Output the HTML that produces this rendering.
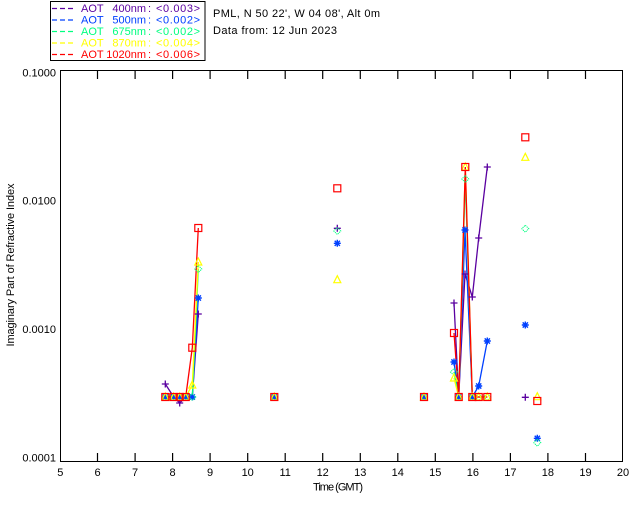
<!DOCTYPE html>
<html><head><meta charset="utf-8"><style>
html,body{margin:0;padding:0;background:#fff;}
svg{display:block;}
text{font-family:"Liberation Sans",sans-serif;font-size:11px;fill:#000;}
</style></head><body>
<svg width="640" height="512" viewBox="0 0 640 512" xmlns="http://www.w3.org/2000/svg">
<defs>
<g id="pl"><path d="M-3.5 0H3.5M0 -3.5V3.5" stroke="#5a00a0" stroke-width="1.3" fill="none"/></g>
<g id="st"><path d="M-3.5 0H3.5M0 -3.5V3.5M-2.6 -2.6L2.6 2.6M-2.6 2.6L2.6 -2.6" stroke="#0040ff" stroke-width="1.4" fill="none"/></g>
<g id="di"><polygon points="0,-3.5 3.5,0 0,3.5 -3.5,0" stroke="#00ff80" stroke-width="1" fill="none" stroke-dasharray="1.2,0.8"/></g>
<g id="tr"><polygon points="0,-4 3.5,3 -3.5,3" stroke="#ffff00" stroke-width="1.2" fill="none"/></g>
<g id="sq"><rect x="-3.5" y="-3.5" width="7" height="7" stroke="#ff0000" stroke-width="1.2" fill="none"/></g>
</defs>

<!-- legend -->
<rect x="50.5" y="1.5" width="154.5" height="59" fill="none" stroke="#000" stroke-width="1"/>
<g stroke-width="1.2" stroke-dasharray="5,3">
<line x1="52" y1="8.5" x2="74" y2="8.5" stroke="#5a00a0"/>
<line x1="52" y1="20" x2="74" y2="20" stroke="#0040ff"/>
<line x1="52" y1="31.5" x2="74" y2="31.5" stroke="#00ff80"/>
<line x1="52" y1="43" x2="74" y2="43" stroke="#ffff00"/>
<line x1="52" y1="54.5" x2="74" y2="54.5" stroke="#ff0000"/>
</g>
<g dominant-baseline="middle">
<text x="81" y="9" style="fill:#5a00a0">AOT</text><text x="146" y="9" text-anchor="end" style="fill:#5a00a0">400nm</text><text x="148" y="9" style="fill:#5a00a0">:</text><text x="156" y="9" textLength="44" style="fill:#5a00a0">&lt;0.003&gt;</text>
<text x="81" y="20.5" style="fill:#0040ff">AOT</text><text x="146" y="20.5" text-anchor="end" style="fill:#0040ff">500nm</text><text x="148" y="20.5" style="fill:#0040ff">:</text><text x="156" y="20.5" textLength="44" style="fill:#0040ff">&lt;0.002&gt;</text>
<text x="81" y="32" style="fill:#00ff80">AOT</text><text x="146" y="32" text-anchor="end" style="fill:#00ff80">675nm</text><text x="148" y="32" style="fill:#00ff80">:</text><text x="156" y="32" textLength="44" style="fill:#00ff80">&lt;0.002&gt;</text>
<text x="81" y="43.5" style="fill:#ffff00">AOT</text><text x="146" y="43.5" text-anchor="end" style="fill:#ffff00">870nm</text><text x="148" y="43.5" style="fill:#ffff00">:</text><text x="156" y="43.5" textLength="44" style="fill:#ffff00">&lt;0.004&gt;</text>
<text x="81" y="55" style="fill:#ff0000">AOT</text><text x="146" y="55" text-anchor="end" style="fill:#ff0000">1020nm</text><text x="148" y="55" style="fill:#ff0000">:</text><text x="156" y="55" textLength="44" style="fill:#ff0000">&lt;0.006&gt;</text>

<text x="213" y="14" textLength="167">PML, N 50 22', W 04 08', Alt 0m</text>
<text x="213" y="31" textLength="124">Data from: 12 Jun 2023</text>

<!-- y labels -->
<text x="56" y="73.5" text-anchor="end">0.1000</text>
<text x="56" y="201.5" text-anchor="end">0.0100</text>
<text x="56" y="330" text-anchor="end">0.0010</text>
<text x="56" y="458.5" text-anchor="end">0.0001</text>

<!-- x labels -->
<g text-anchor="middle">
<text x="60.3" y="473">5</text><text x="97.5" y="473">6</text><text x="135.1" y="473">7</text><text x="172.6" y="473">8</text><text x="210.1" y="473">9</text><text x="247.7" y="473">10</text><text x="285.2" y="473">11</text><text x="322.7" y="473">12</text><text x="360.3" y="473">13</text><text x="397.8" y="473">14</text><text x="435.3" y="473">15</text><text x="472.9" y="473">16</text><text x="510.4" y="473">17</text><text x="547.9" y="473">18</text><text x="585.5" y="473">19</text><text x="623" y="473">20</text>
<text x="338" y="487.5" textLength="50">Time (GMT)</text>
</g>
<text transform="translate(11,265) rotate(-90)" text-anchor="middle" textLength="163">Imaginary Part of Refractive Index</text>
</g>

<!-- axes -->
<rect x="60.5" y="70.5" width="562" height="391" fill="none" stroke="#000" stroke-width="1"/>
<path d="M97.5 461V453M135.1 461V453M172.6 461V453M210.1 461V453M247.7 461V453M285.2 461V453M322.7 461V453M360.3 461V453M397.8 461V453M435.3 461V453M472.9 461V453M510.4 461V453M547.9 461V453M585.5 461V453
M97.5 71V79M135.1 71V79M172.6 71V79M210.1 71V79M247.7 71V79M285.2 71V79M322.7 71V79M360.3 71V79M397.8 71V79M435.3 71V79M472.9 71V79M510.4 71V79M547.9 71V79M585.5 71V79" stroke="#000" stroke-width="1.2"/>

<!-- lines -->
<g fill="none" stroke-width="1.3">
<polyline stroke="#5a00a0" points="165.3,384 173.7,397 179.7,403 185.7,397 192.3,397 198.3,314"/>
<polyline stroke="#5a00a0" points="454,303 458.7,397 465,274 472.3,297 478.7,238 487.3,167"/>
<polyline stroke="#0040ff" points="165.3,397 173.7,397 179.7,397 185.7,397 192.3,397 198.3,298"/>
<polyline stroke="#0040ff" points="454,362 458.7,397 465,230 472.3,397 478.7,386 487.3,341"/>
<polyline stroke="#00ff80" points="165.3,397 173.7,397 179.7,397 185.7,397 192.3,397 198.3,269"/>
<polyline stroke="#00ff80" points="454,372 458.7,397 465.3,179 472.3,397 478.7,397 487.3,397"/>
<polyline stroke="#ffff00" points="165.3,397 173.7,397 179.7,397 185.7,397 192.3,385 198.3,262"/>
<polyline stroke="#ffff00" points="454,378 458.7,397 465.3,167 472.3,397 478.7,397 487.3,397"/>
<polyline stroke="#ff0000" points="165.3,397 173.7,397 179.7,397 185.7,397 192.3,347.7 198.3,228"/>
<polyline stroke="#ff0000" points="454,333 458.7,397 465.3,167 472.3,397 478.7,397 487.3,397"/>
</g>

<!-- purple markers -->
<use href="#pl" x="165.3" y="384"/><use href="#pl" x="179.7" y="403"/><use href="#pl" x="198.3" y="314"/>
<use href="#pl" x="337.3" y="228.3"/>
<use href="#pl" x="454" y="303"/><use href="#pl" x="465" y="274"/><use href="#pl" x="472.3" y="297"/><use href="#pl" x="478.7" y="238"/><use href="#pl" x="487.3" y="167"/>
<use href="#pl" x="525.3" y="397.3"/>

<!-- blue markers -->
<use href="#st" x="165.3" y="397"/><use href="#st" x="173.7" y="397"/><use href="#st" x="179.7" y="397"/><use href="#st" x="185.7" y="397"/><use href="#st" x="192.3" y="397"/><use href="#st" x="198.3" y="298"/>
<use href="#st" x="274.3" y="397"/><use href="#st" x="337.3" y="243.3"/><use href="#st" x="424" y="397"/>
<use href="#st" x="454" y="362"/><use href="#st" x="458.7" y="397"/><use href="#st" x="465" y="230"/><use href="#st" x="472.3" y="397"/><use href="#st" x="478.7" y="386"/><use href="#st" x="487.3" y="341"/>
<use href="#st" x="525.3" y="325"/><use href="#st" x="537.3" y="438.3"/>

<!-- green markers -->
<use href="#di" x="165.3" y="397"/><use href="#di" x="173.7" y="397"/><use href="#di" x="179.7" y="397"/><use href="#di" x="185.7" y="397"/><use href="#di" x="192.3" y="397"/><use href="#di" x="198.3" y="269"/>
<use href="#di" x="274.3" y="397"/><use href="#di" x="337.3" y="231"/><use href="#di" x="424" y="397"/>
<use href="#di" x="454" y="372"/><use href="#di" x="458.7" y="397"/><use href="#di" x="465.3" y="179"/><use href="#di" x="472.3" y="397"/><use href="#di" x="478.7" y="397"/><use href="#di" x="487.3" y="397"/>
<use href="#di" x="525.3" y="228.7"/><use href="#di" x="537.3" y="442.7"/>

<!-- yellow markers -->
<use href="#tr" x="165.3" y="397"/><use href="#tr" x="173.7" y="397"/><use href="#tr" x="179.7" y="397"/><use href="#tr" x="185.7" y="397"/><use href="#tr" x="192.3" y="385"/><use href="#tr" x="198.3" y="262"/>
<use href="#tr" x="274.3" y="397"/><use href="#tr" x="337.3" y="279.7"/><use href="#tr" x="424" y="397"/>
<use href="#tr" x="454" y="378"/><use href="#tr" x="458.7" y="397"/><use href="#tr" x="465.3" y="167"/><use href="#tr" x="472.3" y="397"/><use href="#tr" x="478.7" y="397"/><use href="#tr" x="487.3" y="397"/>
<use href="#tr" x="525.3" y="157.3"/><use href="#tr" x="537.3" y="396.7"/>

<!-- red markers -->
<use href="#sq" x="165.3" y="397"/><use href="#sq" x="173.7" y="397"/><use href="#sq" x="179.7" y="397"/><use href="#sq" x="185.7" y="397"/><use href="#sq" x="192.3" y="347.7"/><use href="#sq" x="198.3" y="228"/>
<use href="#sq" x="274.3" y="397"/><use href="#sq" x="337.3" y="188.3"/><use href="#sq" x="424" y="397"/>
<use href="#sq" x="454" y="333"/><use href="#sq" x="458.7" y="397"/><use href="#sq" x="465.3" y="167"/><use href="#sq" x="472.3" y="397"/><use href="#sq" x="478.7" y="397"/><use href="#sq" x="487.3" y="397"/>
<use href="#sq" x="525.3" y="137.3"/><use href="#sq" x="537.3" y="401"/>
</svg>
</body></html>
